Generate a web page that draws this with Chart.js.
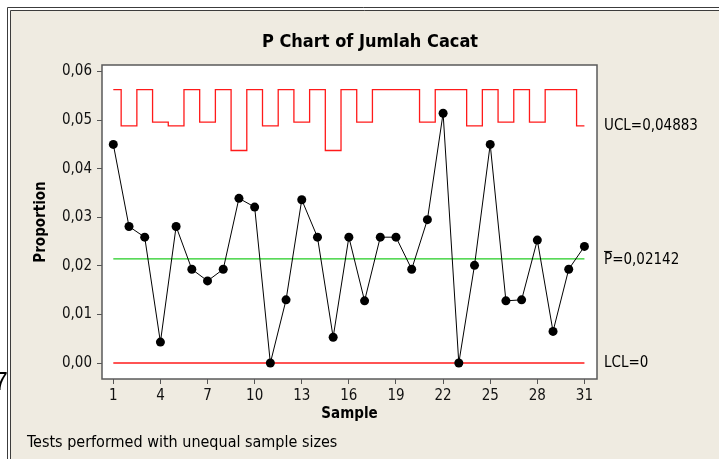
<!DOCTYPE html>
<html>
<head>
<meta charset="utf-8">
<script src="https://cdn.jsdelivr.net/npm/chart.js@4.4.1/dist/chart.umd.min.js"></script>
<style>
html,body{margin:0;padding:0;background:#fff;}
canvas{display:block;}
</style>
</head>
<body>
<canvas id="c" width="719" height="459"></canvas>
<script>
// ---- data ----
const samples = [1,2,3,4,5,6,7,8,9,10,11,12,13,14,15,16,17,18,19,20,21,22,23,24,25,26,27,28,29,30,31];
const proportions = [0.0450,0.0281,0.0259,0.0043,0.0281,0.0193,0.0169,0.0193,0.0339,0.0321,0.0000,0.0130,0.0336,0.0259,0.0053,0.0259,0.0128,0.0259,0.0259,0.0193,0.0295,0.0514,0.0000,0.0201,0.0450,0.0128,0.0130,0.0253,0.0065,0.0193,0.0240];
const uclValues = [0.05628,0.04883,0.05628,0.04958,0.04883,0.05628,0.04958,0.05628,0.04374,0.05628,0.04883,0.05628,0.04958,0.05628,0.04374,0.05628,0.04958,0.05628,0.05628,0.05628,0.04958,0.05628,0.05628,0.04883,0.05628,0.04958,0.05628,0.04958,0.05628,0.05628,0.04883];
const centerValue = 0.02142;
const lclValue = 0;
const xTickValues = [1,4,7,10,13,16,19,22,25,28,31];
const yTickValues = [0,0.01,0.02,0.03,0.04,0.05,0.06];
const titleText = 'P Chart of Jumlah Cacat';
const xTitle = 'Sample';
const yTitle = 'Proportion';
const footerText = 'Tests performed with unequal sample sizes';
const uclLabel = 'UCL=0,04883';
const centerLabel = 'P=0,02142';
const lclLabel = 'LCL=0';

const FONT = '"DejaVu Sans Condensed", "DejaVu Sans", sans-serif';
const BG = '#EFEBE1';

const decor = {
  id: 'decor',
  beforeDraw(chart) {
    const {ctx, chartArea: a, width, height} = chart;
    ctx.save();
    ctx.fillStyle = '#ffffff';
    ctx.fillRect(0, 0, width, height);
    ctx.fillStyle = BG;
    ctx.fillRect(11, 11, width - 11, height - 11);
    ctx.strokeStyle = '#3c3c3c';
    ctx.lineWidth = 1;
    ctx.beginPath();
    ctx.moveTo(7.5, height); ctx.lineTo(7.5, 7.5); ctx.lineTo(width, 7.5);
    ctx.moveTo(10.5, height); ctx.lineTo(10.5, 10.5); ctx.lineTo(width, 10.5);
    ctx.stroke();
    ctx.fillStyle = '#ffffff';
    ctx.fillRect(a.left, a.top, a.right - a.left, a.bottom - a.top);
    ctx.restore();
  },
  afterDraw(chart) {
    const {ctx, chartArea: a, scales} = chart;
    ctx.save();
    ctx.strokeStyle = '#5a5a5a';
    ctx.lineWidth = 1.5;
    ctx.strokeRect(a.left, a.top, a.right - a.left, a.bottom - a.top);

    ctx.fillStyle = '#000';
    ctx.textBaseline = 'middle';
    ctx.textAlign = 'center';
    ctx.font = 'bold 18px ' + FONT;
    ctx.fillText(titleText, 370, 42);

    ctx.textAlign = 'left';
    ctx.font = '15px ' + FONT;
    const lx = a.right + 7;
    ctx.fillText(uclLabel, lx, scales.y.getPixelForValue(uclValues[uclValues.length - 1]));
    const cy = scales.y.getPixelForValue(centerValue);
    ctx.fillText(centerLabel, lx, cy + 1);
    const pw = ctx.measureText('P').width;
    ctx.strokeStyle = '#000';
    ctx.lineWidth = 1;
    ctx.beginPath();
    ctx.moveTo(lx, cy - 7.5); ctx.lineTo(lx + pw, cy - 7.5);
    ctx.stroke();
    ctx.fillText(lclLabel, lx, scales.y.getPixelForValue(lclValue));

    ctx.font = '16px ' + FONT;
    ctx.fillText(footerText, 27, 443);

    ctx.font = '26px "Liberation Sans", sans-serif';
    ctx.textAlign = 'right';
    ctx.textBaseline = 'alphabetic';
    ctx.fillText('7', 8, 390);
    ctx.restore();
  }
};

const pts = (ys) => samples.map((s, i) => ({x: s, y: ys[i]}));
const first = samples[0], last = samples[samples.length - 1];

new Chart(document.getElementById('c'), {
  type: 'line',
  data: {
    datasets: [
      {
        data: pts(proportions),
        borderColor: '#000',
        backgroundColor: '#000',
        borderWidth: 1,
        pointRadius: 4.5,
        pointBorderWidth: 0,
        pointBackgroundColor: '#000'
      },
      {
        data: pts(uclValues),
        borderColor: '#ff1a1a',
        borderWidth: 1.3,
        pointRadius: 0,
        stepped: 'middle'
      },
      {
        data: [{x: first, y: centerValue}, {x: last, y: centerValue}],
        borderColor: '#22cc22',
        borderWidth: 1.3,
        pointRadius: 0
      },
      {
        data: [{x: first, y: lclValue}, {x: last, y: lclValue}],
        borderColor: '#ff1a1a',
        borderWidth: 1.3,
        pointRadius: 0
      }
    ]
  },
  options: {
    responsive: false,
    animation: false,
    devicePixelRatio: 1,
    layout: {padding: {left: 0, right: 122, top: 65, bottom: 0}},
    plugins: {legend: {display: false}, tooltip: {enabled: false}, title: {display: false}},
    elements: {line: {tension: 0}},
    scales: {
      x: {
        type: 'linear',
        min: 0.28,
        max: 31.8,
        afterBuildTicks: (s) => { s.ticks = xTickValues.map(v => ({value: v})); },
        afterFit: (s) => { s.height = 80; },
        grid: {drawOnChartArea: false, drawTicks: true, tickLength: 5, color: '#555'},
        border: {display: false},
        ticks: {color: '#111', font: {family: FONT, size: 15}, padding: 3, maxRotation: 0, autoSkip: false,
                callback: (v) => String(v)},
        title: {display: true, text: xTitle, color: '#000', font: {family: FONT, size: 15, weight: 'bold'}, padding: {top: 0, bottom: 36}}
      },
      y: {
        type: 'linear',
        min: -0.00329,
        max: 0.06134,
        afterBuildTicks: (s) => { s.ticks = yTickValues.map(v => ({value: v})); },
        afterFit: (s) => { s.width = 102; },
        grid: {drawOnChartArea: false, drawTicks: true, tickLength: 5, color: '#555'},
        border: {display: false},
        ticks: {color: '#111', font: {family: FONT, size: 15}, padding: 5,
                callback: (v) => v.toFixed(2).replace('.', ',')},
        title: {display: true, text: yTitle, color: '#000', font: {family: FONT, size: 15, weight: 'bold'}, padding: {top: 32, bottom: 0}}
      }
    }
  },
  plugins: [decor]
});
</script>
</body>
</html>
